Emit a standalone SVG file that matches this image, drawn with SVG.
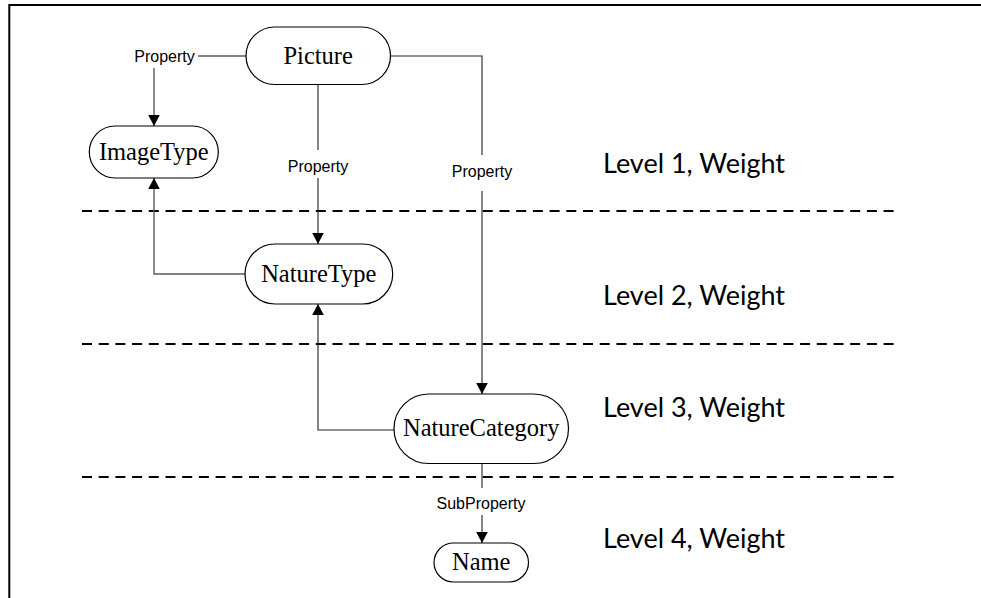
<svg xmlns="http://www.w3.org/2000/svg" width="981" height="598" viewBox="0 0 981 598">
  <defs>
    <marker id="arrow" markerUnits="userSpaceOnUse" markerWidth="12" markerHeight="12" refX="11" refY="5.8" orient="auto">
      <path d="M0,0 L11,5.8 L0,11.6 z" fill="#000"/>
    </marker>
    <style>
      .node rect { fill: #fff; stroke: #000; stroke-width: 1.2; }
      .node text { font-family: "Liberation Serif", "Times New Roman", serif; font-size: 24.5px; fill: #000; text-anchor: middle; }
      .conn { fill: none; stroke: #222; stroke-width: 1.1; }
      .conn.gray { stroke: #5a5a5a; stroke-width: 1.4; }
      .arrow { marker-end: url(#arrow); }
      .elabel { font-family: "Liberation Sans", Arial, sans-serif; font-size: 16px; fill: #000; text-anchor: middle; }
      .level { font-family: Lato, "Open Sans", sans-serif; font-size: 26px; fill: #000; }
      .divider { stroke: #000; stroke-width: 2; stroke-dasharray: 10 6.7; fill: none; }
      .frame { fill: none; stroke: #000; stroke-width: 2; }
    </style>
  </defs>
  <rect x="0" y="0" width="981" height="598" fill="#fff"/>
  <path class="frame" d="M9.3,598 V5 H981"/>

  <g id="dividers">
    <line class="divider" x1="82" y1="211" x2="900" y2="211"/>
    <line class="divider" x1="82" y1="344" x2="900" y2="344"/>
    <line class="divider" x1="82" y1="477" x2="900" y2="477"/>
  </g>

  <g id="connectors">
    <!-- Picture -> ImageType -->
    <path class="conn gray" d="M246,56 H198"/>
    <path class="conn gray arrow" d="M154,68 V126"/>
    <!-- Picture -> NatureType -->
    <path class="conn" d="M318,84.5 V150"/>
    <path class="conn arrow" d="M318,178 V244"/>
    <!-- Picture -> NatureCategory -->
    <path class="conn" d="M390.5,56 H482 V155"/>
    <path class="conn arrow" d="M482,191 V394"/>
    <!-- NatureType -> ImageType -->
    <path class="conn gray arrow" d="M245,274 H154 V178"/>
    <!-- NatureCategory -> NatureType -->
    <path class="conn arrow" d="M394,430 H318 V304"/>
    <!-- NatureCategory -> Name -->
    <path class="conn" d="M482,463.5 V488"/>
    <path class="conn arrow" d="M482,515 V543"/>
    <text class="elabel" x="164.5" y="61.7">Property</text>
    <text class="elabel" x="318" y="171.7">Property</text>
    <text class="elabel" x="482" y="177">Property</text>
    <text class="elabel" x="481" y="509" font-size="16.5">SubProperty</text>
  </g>

  <g id="Picture" class="node">
    <rect x="246" y="27" width="144.5" height="57.5" rx="28.75"/>
    <text x="318.2" y="63.5">Picture</text>
  </g>
  <g id="ImageType" class="node">
    <rect x="89.3" y="126" width="129" height="52" rx="26"/>
    <text x="153.8" y="160">ImageType</text>
  </g>
  <g id="NatureType" class="node">
    <rect x="245" y="244" width="147.7" height="60" rx="30"/>
    <text x="318.8" y="282">NatureType</text>
  </g>
  <g id="NatureCategory" class="node">
    <rect x="394" y="394" width="174.5" height="69.5" rx="34.75"/>
    <text x="481.2" y="436">NatureCategory</text>
  </g>
  <g id="Name" class="node">
    <rect x="434" y="543" width="94.5" height="39" rx="19.5"/>
    <text x="481.2" y="569.5">Name</text>
  </g>

  <g id="levels">
    <text class="level" x="603" y="173" textLength="182" lengthAdjust="spacingAndGlyphs">Level 1, Weight</text>
    <text class="level" x="603" y="305" textLength="182" lengthAdjust="spacingAndGlyphs">Level 2, Weight</text>
    <text class="level" x="603" y="416.7" textLength="182" lengthAdjust="spacingAndGlyphs">Level 3, Weight</text>
    <text class="level" x="603" y="548" textLength="182" lengthAdjust="spacingAndGlyphs">Level 4, Weight</text>
  </g>
</svg>
